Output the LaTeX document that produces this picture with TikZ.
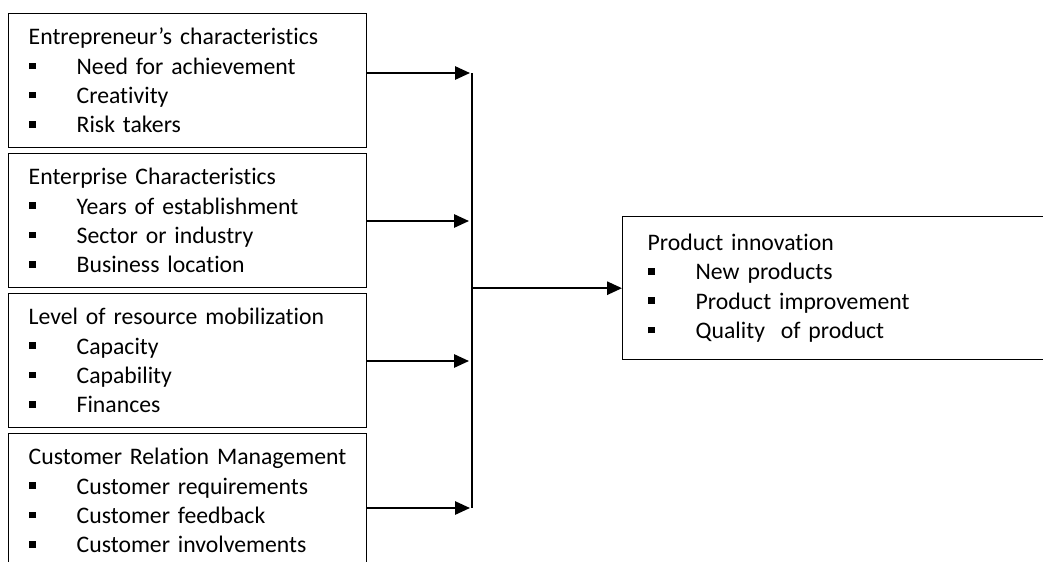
\documentclass[tikz,border=0pt]{standalone}
\usepackage{fontspec}
\setmainfont{Carlito}[Ligatures={NoCommon}]
\usetikzlibrary{arrows.meta}

% square bullet followed by the item text
\newcommand{\sqitem}[1]{\makebox[27.3pt][l]{\hspace{0.4pt}\rule[3pt]{3.7pt}{3.7pt}}#1}

\tikzset{
  factor/.style={draw, line width=0.8pt, anchor=north west, align=left,
    text width=6.36cm, inner xsep=0.4cm, inner ysep=0pt,
    minimum width=7.16cm, minimum height=2.68cm,
    font=\fontsize{13.5}{16.7}\selectfont},
  outcome/.style={factor, text width=8cm, inner xsep=0.4cm,
    minimum width=9cm, minimum height=2.86cm},
  flow/.style={line width=1.2pt, -{Triangle[length=8.5pt,width=7.5pt]}},
  bus/.style={line width=1.2pt}
}

\begin{document}
\begin{tikzpicture}[x=0.02cm, y=-0.02cm]
        \clip (0,0) rectangle (1043,561);
        % the four groups of factors
        \node[factor] (entre) at (8,13) {Entrepreneur’s characteristics\\
          \sqitem{Need for achievement}\\ \sqitem{Creativity}\\ \sqitem{Risk takers}};
        \node[factor] (enter) at (8,153) {Enterprise Characteristics\\
          \sqitem{Years of establishment}\\ \sqitem{Sector or industry}\\ \sqitem{Business location}};
        \node[factor] (resour) at (8,293) {Level of resource mobilization\\
          \sqitem{Capacity}\\ \sqitem{Capability}\\ \sqitem{Finances}};
        \node[factor] (crm) at (8,433) {\mbox{Customer Relation Management}\\
          \sqitem{Customer requirements}\\ \sqitem{Customer feedback}\\ \sqitem{Customer involvements}};
        % outcome
        \node[outcome] (prod) at (622,216) {Product innovation\\
          \sqitem{New products}\\ \sqitem{Product improvement}\\ \sqitem{Quality~ of product}};
        % arrow ends on the collecting line
        \coordinate (a1) at (470,73);
        \coordinate (a2) at (469,221);
        \coordinate (a3) at (469,361);
        \coordinate (a4) at (470,508);
        \coordinate (bustop) at (472,73);
        \coordinate (busbot) at (472,508);
        \draw[flow] (entre.east |- a1) -- (a1);
        \draw[flow] (enter.east |- a2) -- (a2);
        \draw[flow] (resour.east |- a3) -- (a3);
        \draw[flow] (crm.east |- a4) -- (a4);
        \draw[bus] (bustop) -- (busbot);
        \draw[flow] (bustop |- prod.west) -- (prod.west);
\end{tikzpicture}
\end{document}
